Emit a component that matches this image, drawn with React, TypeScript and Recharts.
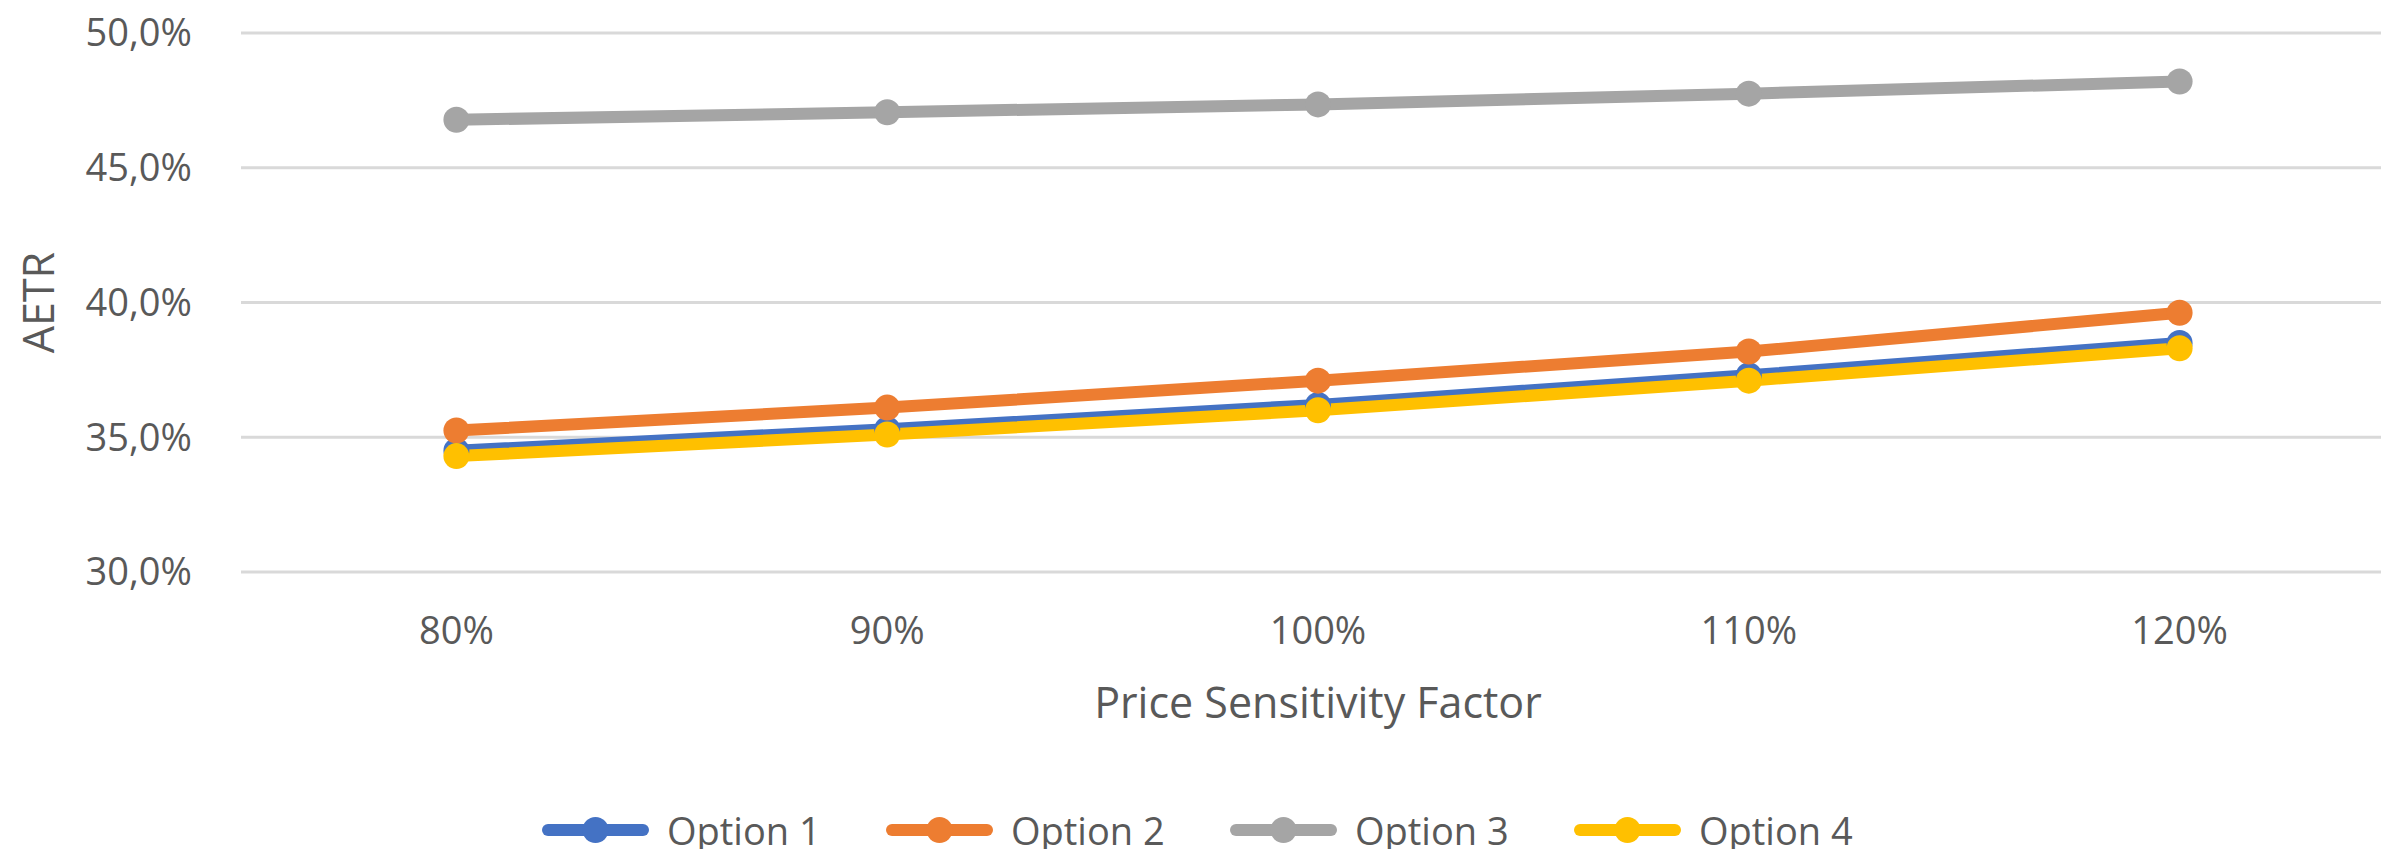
import React from 'react';
import { LineChart, Line, XAxis, YAxis, CartesianGrid, Legend, Label } from 'recharts';

const categories = ['80%', '90%', '100%', '110%', '120%'];
const option1 = [34.5, 35.3, 36.2, 37.3, 38.5];
const option2 = [35.25, 36.1, 37.1, 38.18, 39.62];
const option3 = [46.78, 47.06, 47.35, 47.75, 48.2];
const option4 = [34.3, 35.1, 36.0, 37.1, 38.3];
const yTicks = [30, 35, 40, 45, 50];

const seriesNames = ['Option 1', 'Option 2', 'Option 3', 'Option 4'];
const seriesColors = ['#4472C4', '#ED7D31', '#A5A5A5', '#FFC000'];

const rows = categories.map((cat, i) => ({
  cat,
  o1: option1[i],
  o2: option2[i],
  o3: option3[i],
  o4: option4[i],
}));

const TEXT = '#595959';
const FONT = '"Open Sans", sans-serif';

const fmtPct = (v: number) => `${v.toFixed(1).replace('.', ',')}%`;

const YTitle = (props: any) => {
  const vb = props.viewBox;
  const x = vb.x + 37;
  const y = vb.y + vb.height / 2;
  return (
    <text
      x={x}
      y={y}
      transform={`rotate(-90, ${x}, ${y})`}
      textAnchor="middle"
      dominantBaseline="central"
      fill={TEXT}
      fontSize={43}
    >
      AETR
    </text>
  );
};

// legend icon: thick line with a dot in the middle, like Excel
const LegendContent = () => (
  <div
    style={{
      height: 46,
      display: 'flex',
      justifyContent: 'center',
      alignItems: 'center',
      fontFamily: FONT,
    }}
  >
    {seriesNames.map((name, i) => (
      <div
        key={name}
        style={{
          display: 'flex',
          alignItems: 'center',
          marginRight: i < seriesNames.length - 1 ? 65 : 0,
        }}
      >
        <svg width={107} height={30} style={{ marginRight: 18 }}>
          <line x1={6} y1={15} x2={101} y2={15} stroke={seriesColors[i]} strokeWidth={12} strokeLinecap="round" />
          <circle cx={53.5} cy={15} r={13} fill={seriesColors[i]} />
        </svg>
        <span style={{ fontSize: 38, color: TEXT, width: 154, whiteSpace: 'nowrap', lineHeight: '46px' }}>{name}</span>
      </div>
    ))}
  </div>
);

export default function App() {
  const keys = ['o1', 'o2', 'o3', 'o4'];
  return (
    <div style={{ margin: -8, width: 2389, height: 857, overflow: 'hidden', background: '#fff', fontFamily: FONT }}>
      <LineChart width={2395} height={857} data={rows} margin={{ top: 33, right: 0, left: 0, bottom: 79 }}>
        <CartesianGrid horizontal vertical={false} stroke="#D9D9D9" strokeWidth={3} />
        <XAxis
          dataKey="cat"
          scale="band"
          axisLine={false}
          tickLine={false}
          tickSize={0}
          tickMargin={45}
          height={160}
          tick={{ fill: TEXT, fontSize: 38 }}
        >
          <Label value="Price Sensitivity Factor" position="insideBottom" offset={14} fill={TEXT} fontSize={43} />
        </XAxis>
        <YAxis
          type="number"
          domain={[30, 50]}
          ticks={yTicks}
          width={241}
          axisLine={false}
          tickLine={false}
          tickSize={0}
          tickMargin={49}
          tickFormatter={fmtPct}
          tick={{ fill: TEXT, fontSize: 38 }}
        >
          <Label content={YTitle} />
        </YAxis>
        <Legend verticalAlign="bottom" content={LegendContent} wrapperStyle={{ bottom: 4 }} />
        {keys.map((k, i) => (
          <Line
            key={k}
            dataKey={k}
            name={seriesNames[i]}
            type="linear"
            stroke={seriesColors[i]}
            strokeWidth={12}
            strokeLinecap="round"
            strokeLinejoin="round"
            dot={{ r: 13, fill: seriesColors[i], stroke: seriesColors[i], strokeWidth: 0 }}
            activeDot={false}
            isAnimationActive={false}
          />
        ))}
      </LineChart>
    </div>
  );
}
